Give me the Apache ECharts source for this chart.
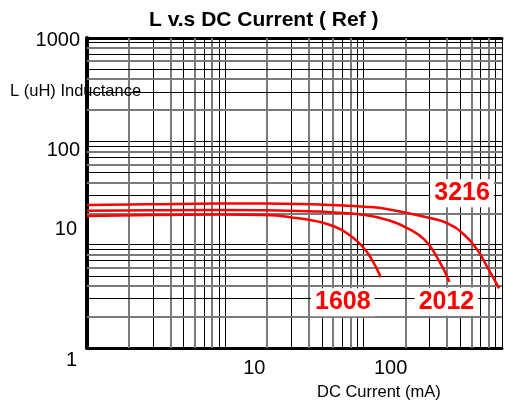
<!DOCTYPE html>
<html><head><meta charset="utf-8">
<script src="https://cdn.jsdelivr.net/npm/echarts@6/dist/echarts.min.js"></script>
<style>html,body{margin:0;padding:0;background:#fff;}#c{width:505px;height:403px;}</style>
</head><body><div id="c"></div>
<script>
// ---- data ----
const seriesNames = ['1608', '2012', '3216'];
const current1608 = [1, 9, 19.6, 33.8, 47, 62, 77, 96, 113, 133];
const induct1608  = [18.9, 19.6, 19.4, 18.0, 16.7, 14.9, 12.7, 9.9, 7.4, 4.83];
const current2012 = [1, 9, 19.6, 47, 58, 102, 150, 208, 276, 342, 417];
const induct2012  = [21.3, 21.7, 21.5, 20.9, 20.6, 19.4, 17.3, 14.4, 11.1, 7.4, 4.38];
const current3216 = [1, 2.8, 9, 19.6, 33.8, 58, 102, 150, 305, 404, 535, 663, 782, 953];
const induct3216  = [24.2, 24.6, 25.0, 25.0, 24.8, 24.2, 23.3, 22.0, 18.0, 16.1, 12.4, 8.9, 6.1, 3.78];
const xTickLabels = ['1', '10', '100', '1000'];
const yTickLabels = ['1', '10', '100', '1000'];
const minorGrid = [2,3,4,5,6,7,8,9,20,30,40,50,60,70,80,90,200,300,400,500,600,700,800,900];

const FONT = '"Liberation Sans", Arial, sans-serif';
const chart = echarts.init(document.getElementById('c'), null, {renderer: 'canvas'});

function gridStyle(v) {
  const m = Math.round(v / Math.pow(10, Math.floor(Math.log10(v) + 1e-9)));
  return m % 2 === 0 ? {color: '#7a7a7a', width: 2, type: 'solid'} : {color: '#000', width: 1, type: 'solid'};
}
const markLineData = [];
minorGrid.forEach(v => markLineData.push({xAxis: v, lineStyle: gridStyle(v)}));
minorGrid.filter(v => v < 1000).forEach(v => markLineData.push({yAxis: v, lineStyle: gridStyle(v)}));

function zip(xs, ys) { return xs.map((x, i) => [x, ys[i]]); }
const curves = [[current1608, induct1608], [current2012, induct2012], [current3216, induct3216]];
const labelOffsets = [[-38, 25], [-3, 20], [-37, -95]];

const redSeries = curves.map((c, i) => ({
  name: seriesNames[i],
  type: 'line',
  data: zip(c[0], c[1]),
  smooth: 0.5,
  symbol: 'none',
  zlevel: 1,
  z: 10,
  lineStyle: {color: '#ff0000', width: 2.5},
  markPoint: {
    symbol: 'circle', symbolSize: 0, silent: true, animation: false, zlevel: 1, z: 12,
    data: [{coord: [c[0][c[0].length - 1], c[1][c[1].length - 1]], value: seriesNames[i]}],
    label: {
      show: true, position: 'inside', offset: labelOffsets[i],
      formatter: seriesNames[i],
      color: '#ff0000', fontWeight: 'bold', fontSize: 25, fontFamily: FONT,
      backgroundColor: '#fff', padding: [2, 4, 1, 4]
    }
  }
}));

const yRich = {
  a: {fontSize: 20, fontFamily: FONT, color: '#000', padding: [4, 0, 0, 0]},
  b: {fontSize: 20, fontFamily: FONT, color: '#000', padding: [18, 0, 0, 0]},
  c: {fontSize: 20, fontFamily: FONT, color: '#000', padding: [0, 3, 30, 0]},
  d: {fontSize: 20, fontFamily: FONT, color: '#000', padding: [24, 3, 0, 0]}
};
const xRich = {
  t: {fontSize: 20, fontFamily: FONT, color: '#000', padding: [0, 0, 0, 58]},
  h: {fontSize: 20, fontFamily: FONT, color: '#000', padding: [0, 0, 0, 54]}
};

chart.setOption({
  animation: false,
  backgroundColor: '#fff',
  title: [
    {text: 'L v.s DC Current ( Ref )', left: 149, top: 10, padding: 0,
     textStyle: {fontSize: 21, fontWeight: 'bold', color: '#000', fontFamily: FONT}},
    {text: 'L (uH) Inductance', left: 10, top: 83, padding: 0,
     textStyle: {fontSize: 16.5, fontWeight: 'normal', color: '#000', fontFamily: FONT}},
    {text: 'DC Current (mA)', left: 317, top: 384, padding: 0,
     textStyle: {fontSize: 16.5, fontWeight: 'normal', color: '#000', fontFamily: FONT}}
  ],
  grid: {left: 87, top: 38, right: 0, bottom: 55, show: false},
  xAxis: [{
    type: 'log', logBase: 10, min: 1, max: 1000, position: 'bottom',
    axisLine: {show: true, lineStyle: {color: '#000', width: 3}},
    axisTick: {show: false},
    splitLine: {show: true, lineStyle: {color: '#000', width: 1}},
    axisLabel: {
      margin: 10, showMinLabel: true, showMaxLabel: true, hideOverlap: false,
      formatter: v => {
        const s = String(Math.round(v));
        if (s === xTickLabels[1]) return '{t|' + s + '}';
        if (s === xTickLabels[2]) return '{h|' + s + '}';
        return '';
      },
      rich: xRich
    }
  }, {
    type: 'log', logBase: 10, min: 1, max: 1000, position: 'top',
    axisLine: {show: true, lineStyle: {color: '#000', width: 3}},
    axisTick: {show: false}, axisLabel: {show: false}, splitLine: {show: false}
  }],
  yAxis: {
    type: 'log', logBase: 10, min: 1, max: 1000,
    axisLine: {show: true, lineStyle: {color: '#000', width: 4}},
    axisTick: {show: false},
    splitLine: {show: true, lineStyle: {color: '#000', width: 1}},
    axisLabel: {
      margin: 7, showMinLabel: true, showMaxLabel: true, hideOverlap: false,
      formatter: v => {
        const s = String(Math.round(v));
        const idx = yTickLabels.indexOf(s);
        return idx < 0 ? '' : '{' + 'dcba'[idx] + '|' + s + '}';
      },
      rich: yRich
    }
  },
  series: [{
    type: 'line', data: [], z: 1, silent: true,
    markLine: {
      z: 1, silent: true, animation: false, symbol: ['none', 'none'],
      label: {show: false}, emphasis: {disabled: true},
      data: markLineData
    }
  }].concat(redSeries)
});
</script>
</body></html>
